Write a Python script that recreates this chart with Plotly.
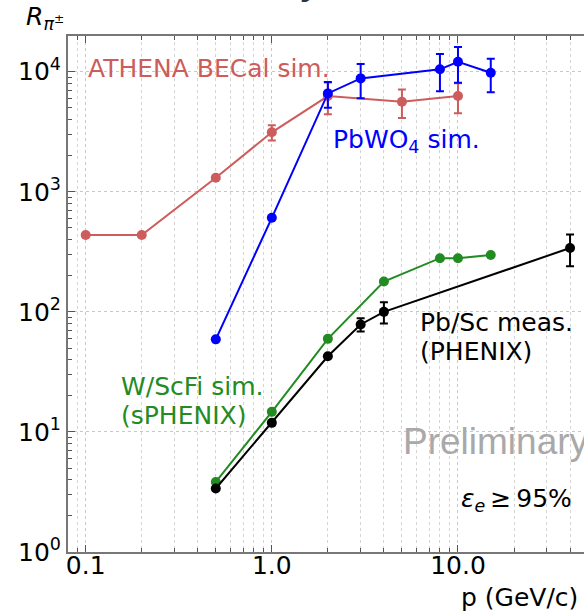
import plotly.graph_objects as go

# ---------------- data ----------------
# ATHENA barrel ECal simulation
athena_p = [0.1, 0.2, 0.5, 1.0, 2.0, 5.0, 10.0]
athena_r = [436, 436, 1310, 3130, 6270, 5620, 6270]
athena_err = [0, 0, 0, 450, 1850, 1500, 1750]

# PbWO4 simulation
pbwo4_p = [0.5, 1.0, 2.0, 3.0, 8.0, 10.0, 15.0]
pbwo4_r = [59, 607, 6600, 8800, 10470, 12100, 9800]
pbwo4_err = [0, 0, 1600, 2800, 3600, 4000, 3050]

# W/SciFi simulation (sPHENIX)
wscfi_p = [0.5, 1.0, 2.0, 4.0, 8.0, 10.0, 15.0]
wscfi_r = [3.83, 14.7, 59.6, 179, 280, 280, 298]

# Pb/Sc measurement (PHENIX)
pbsc_p = [0.5, 1.0, 2.0, 3.0, 4.0, 40.0]
pbsc_r = [3.38, 11.9, 42.7, 78.5, 100, 340]
pbsc_err = [0, 0, 0, 10, 20, 100]

x_tickvals = [0.1, 1.0, 10.0]
x_ticktext = ["0.1", "1.0", "10.0"]
x_minor = [0.09] + [m * 0.1 for m in range(2, 10)] + [m * 1.0 for m in range(2, 10)] \
    + [m * 10.0 for m in range(2, 6)]
y_tickvals = [1, 10, 100, 1000, 10000]
y_ticktext = ["10<sup>0</sup>", "10<sup>1</sup>", "10<sup>2</sup>", "10<sup>3</sup>", "10<sup>4</sup>"]
y_minor = [m * 10 ** d for d in range(0, 5) for m in range(2, 10)]

RED = "#cd5c5c"
BLUE = "#0000ff"
GREEN = "#228b22"
BLACK = "#000000"
FONT = "DejaVu Sans"

W, H = 584, 615
ML, MR, MT, MB = 68, 0, 36, 63
PW, PH = W - ML - MR, H - MT - MB


def px(x):
    return (x - ML) / PW


def py(y):
    return (H - MB - y) / PH


def series(p, r, color, err=None):
    kw = {}
    if err is not None:
        kw["error_y"] = dict(type="data", array=err, symmetric=True,
                             color=color, thickness=2, width=4)
    return go.Scatter(x=p, y=r, mode="lines+markers",
                      line=dict(color=color, width=2),
                      marker=dict(color=color, size=10),
                      showlegend=False, **kw)


fig = go.Figure()
fig.add_trace(series(athena_p, athena_r, RED, athena_err))
fig.add_trace(series(pbwo4_p, pbwo4_r, BLUE, pbwo4_err))
fig.add_trace(series(wscfi_p, wscfi_r, GREEN))
fig.add_trace(series(pbsc_p, pbsc_r, BLACK, pbsc_err))

grid = dict(gridcolor="#c8c8c8", griddash="dot", gridwidth=1)

fig.update_xaxes(
    type="log", range=[-1.095, 1.677],
    tickvals=x_tickvals, ticktext=x_ticktext,
    ticks="inside", ticklen=7, tickcolor="#555555", tickwidth=1,
    showline=True, linecolor="#777777", linewidth=2, mirror="ticks",
    showgrid=True, **grid,
    minor=dict(tickvals=x_minor, ticks="inside", ticklen=4, tickcolor="#555555",
               showgrid=True, gridcolor="#d4d4d4", griddash="dot", gridwidth=1),
    tickfont=dict(family=FONT, size=25, color="black"),
    ticklabelstandoff=-10,
    zeroline=False,
)
fig.update_yaxes(
    type="log", range=[0, 4.2975],
    tickvals=y_tickvals, ticktext=y_ticktext,
    ticks="inside", ticklen=7, tickcolor="#555555", tickwidth=1,
    showline=True, linecolor="#777777", linewidth=2, mirror=False,
    showgrid=True, **grid,
    minor=dict(tickvals=y_minor, ticks="inside", ticklen=4, tickcolor="#555555",
               showgrid=False),
    tickfont=dict(family=FONT, size=25, color="black"),
    zeroline=False,
)


def label(text, x, y, color, size=25, family=FONT, xanchor="left"):
    fig.add_annotation(text=text, x=px(x), y=py(y), xref="paper", yref="paper",
                       xanchor=xanchor, yanchor="middle", showarrow=False,
                       font=dict(family=family, size=size, color=color))


label("ATHENA BECal sim.", 86, 68, RED)
label("PbWO<sub>4</sub> sim.", 331, 141, BLUE)
label("Pb/Sc meas.", 418, 322, BLACK)
label("(PHENIX)", 418, 351, BLACK)
label("W/ScFi sim.", 119, 386, GREEN)
label("(sPHENIX)", 119, 415, GREEN)
label("Preliminary", 401, 441, "#a9a9a9", size=37, family="Liberation Sans")
label("<i>ε</i><sub><i>e</i></sub>\u2009≥\u200995%", 459, 500, BLACK)
label("p (GeV/c)", 459, 597, BLACK)
label("<i>R</i><sub><i>π</i><sup>±</sup></sub>", 24, 18, BLACK)
# plot title sits above the visible page area
label("<b>Pion rejection</b>", 300, -15, "#333333", size=30, xanchor="center")

fig.update_layout(
    width=W, height=H,
    margin=dict(l=ML, r=MR, t=MT, b=MB),
    paper_bgcolor="white", plot_bgcolor="white",
    font=dict(family=FONT),
)

fig.write_html("out.html")
